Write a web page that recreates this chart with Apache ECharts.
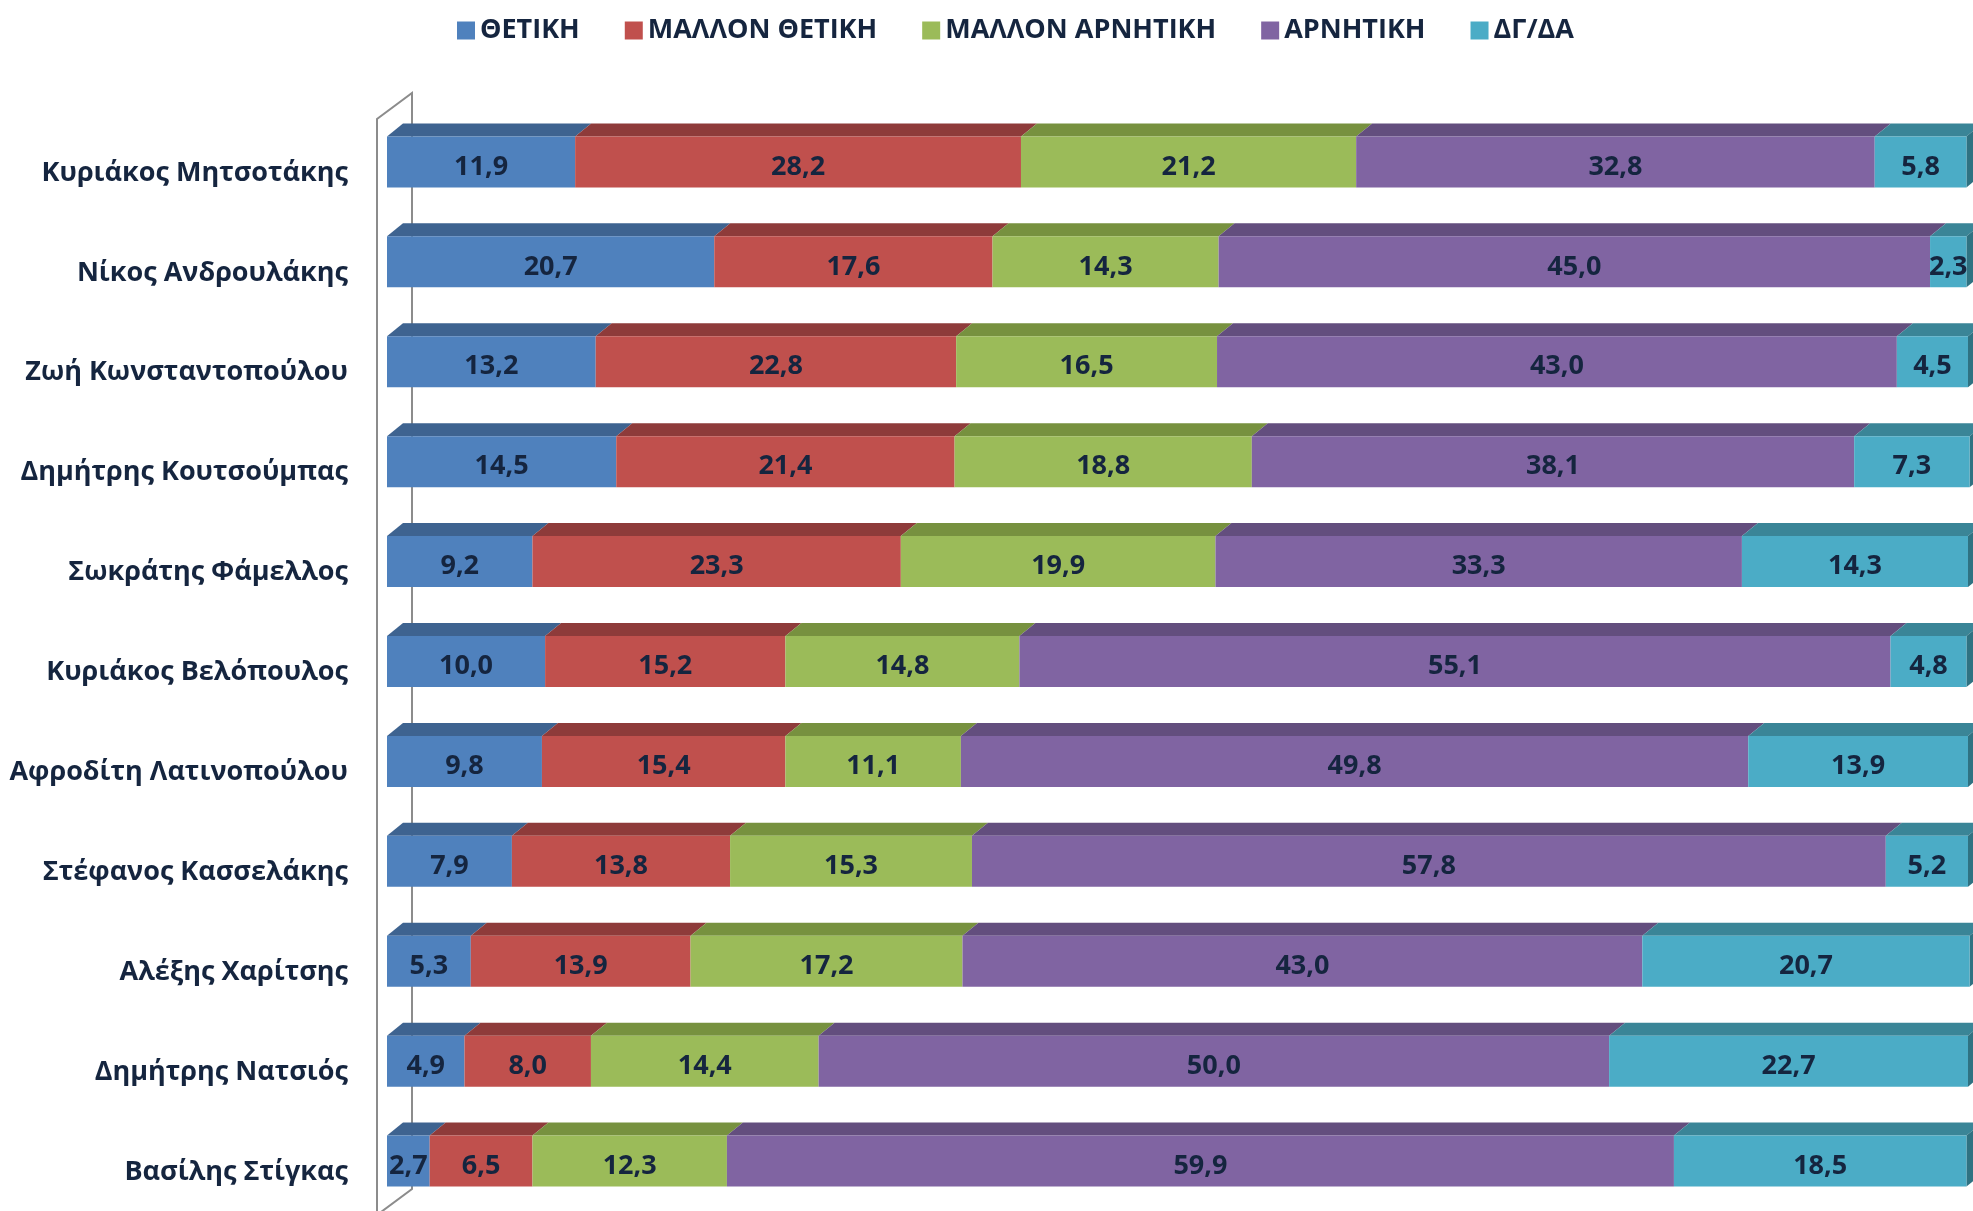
<!DOCTYPE html>
<html>
<head>
<meta charset="utf-8">
<script src="https://cdn.jsdelivr.net/npm/echarts@6/dist/echarts.min.js"></script>
<style>
  html, body { margin: 0; padding: 0; background: #fff; }
  #chart { width: 1973px; height: 1211px; }
</style>
</head>
<body>
<div id="chart"></div>
<script>
// Rating of party leaders, stacked 3D-style bars
const categories = [
  'Κυριάκος Μητσοτάκης',
  'Νίκος Ανδρουλάκης',
  'Ζωή Κωνσταντοπούλου',
  'Δημήτρης Κουτσούμπας',
  'Σωκράτης Φάμελλος',
  'Κυριάκος Βελόπουλος',
  'Αφροδίτη Λατινοπούλου',
  'Στέφανος Κασσελάκης',
  'Αλέξης Χαρίτσης',
  'Δημήτρης Νατσιός',
  'Βασίλης Στίγκας'
];
const seriesNames = ['ΘΕΤΙΚΗ', 'ΜΑΛΛΟΝ ΘΕΤΙΚΗ', 'ΜΑΛΛΟΝ ΑΡΝΗΤΙΚΗ', 'ΑΡΝΗΤΙΚΗ', 'ΔΓ/ΔΑ'];
const thetiki        = [11.9, 20.7, 13.2, 14.5, 9.2, 10.0, 9.8, 7.9, 5.3, 4.9, 2.7];
const mallonThetiki  = [28.2, 17.6, 22.8, 21.4, 23.3, 15.2, 15.4, 13.8, 13.9, 8.0, 6.5];
const mallonArnitiki = [21.2, 14.3, 16.5, 18.8, 19.9, 14.8, 11.1, 15.3, 17.2, 14.4, 12.3];
const arnitiki       = [32.8, 45.0, 43.0, 38.1, 33.3, 55.1, 49.8, 57.8, 43.0, 50.0, 59.9];
const dgda           = [5.8, 2.3, 4.5, 7.3, 14.3, 4.8, 13.9, 5.2, 20.7, 22.7, 18.5];
const seriesValues = [thetiki, mallonThetiki, mallonArnitiki, arnitiki, dgda];

const frontColors = ['#4F81BD', '#C0504D', '#9BBB59', '#8064A2', '#4BACC6'];
const topColors   = ['#3E6390', '#8E3B3A', '#77913F', '#634E7E', '#3A8597'];
const sideColor = '#2F7282';
const textColor = '#15253F';
const font = 'Open Sans';

const gridLeft = 387, gridTop = 112, barWidth = 51;
const dx = 16, dy = 13;

const chart = echarts.init(document.getElementById('chart'));

// top faces of every segment + right side face of the whole bar
function renderTops(params, api) {
  const row = params.dataIndex;
  const half = barWidth / 2;
  const children = [];
  let acc = 0, end = null;
  seriesValues.forEach((vals, s) => {
    const a = api.coord([acc, row]);
    acc += vals[row];
    const b = api.coord([acc, row]);
    const top = a[1] - half;
    children.push({
      type: 'polygon',
      shape: { points: [[a[0], top], [b[0], top], [b[0] + dx, top - dy], [a[0] + dx, top - dy]] },
      style: { fill: topColors[s] }
    });
    end = b;
  });
  const t = end[1] - half, bt = end[1] + half;
  children.push({
    type: 'polygon',
    shape: { points: [[end[0], t], [end[0] + dx, t - dy], [end[0] + dx, bt - dy], [end[0], bt]] },
    style: { fill: sideColor }
  });
  return { type: 'group', children };
}

const barSeries = seriesNames.map((name, s) => ({
  name,
  type: 'bar',
  stack: 'total',
  barWidth,
  clip: false,
  data: seriesValues[s],
  itemStyle: { color: frontColors[s] },
  label: {
    show: true,
    position: 'inside',
    offset: [0, 5],
    color: textColor,
    fontFamily: font,
    fontWeight: 'bold',
    fontSize: 27,
    formatter: p => p.value.toFixed(1).replace('.', ',')
  },
  emphasis: { disabled: true }
}));

const wx = gridLeft - 10, bx = gridLeft + 25;

const option = {
  backgroundColor: '#fff',
  animation: false,
  legend: {
    data: seriesNames,
    left: 452,
    top: 12,
    icon: 'rect',
    itemWidth: 18,
    itemHeight: 18,
    itemGap: 45,
    textStyle: { color: textColor, fontFamily: font, fontWeight: 'bold', fontSize: 27 }
  },
  grid: { left: gridLeft, top: gridTop, width: 1581, height: 1100 },
  xAxis: { type: 'value', min: 0, max: 100, show: false },
  yAxis: {
    type: 'category',
    inverse: true,
    data: categories,
    axisLine: { show: false },
    axisTick: { show: false },
    axisLabel: {
      margin: 39,
      verticalAlign: 'top',
      lineHeight: 22,
      color: textColor,
      fontFamily: font,
      fontWeight: 'bold',
      fontSize: 27
    }
  },
  graphic: [{
    type: 'polyline',
    z: -10,
    shape: { points: [[wx, 1230], [wx, 119], [bx, 93], [bx, 1189], [wx, 1215]] },
    style: { stroke: '#8C8C8C', lineWidth: 2, fill: null }
  }],
  series: barSeries.concat([{
    type: 'custom',
    renderItem: renderTops,
    clip: false,
    silent: true,
    data: categories.map((c, i) => [0, i]),
    encode: { x: 0, y: 1 }
  }])
};

chart.setOption(option);
</script>
</body>
</html>
